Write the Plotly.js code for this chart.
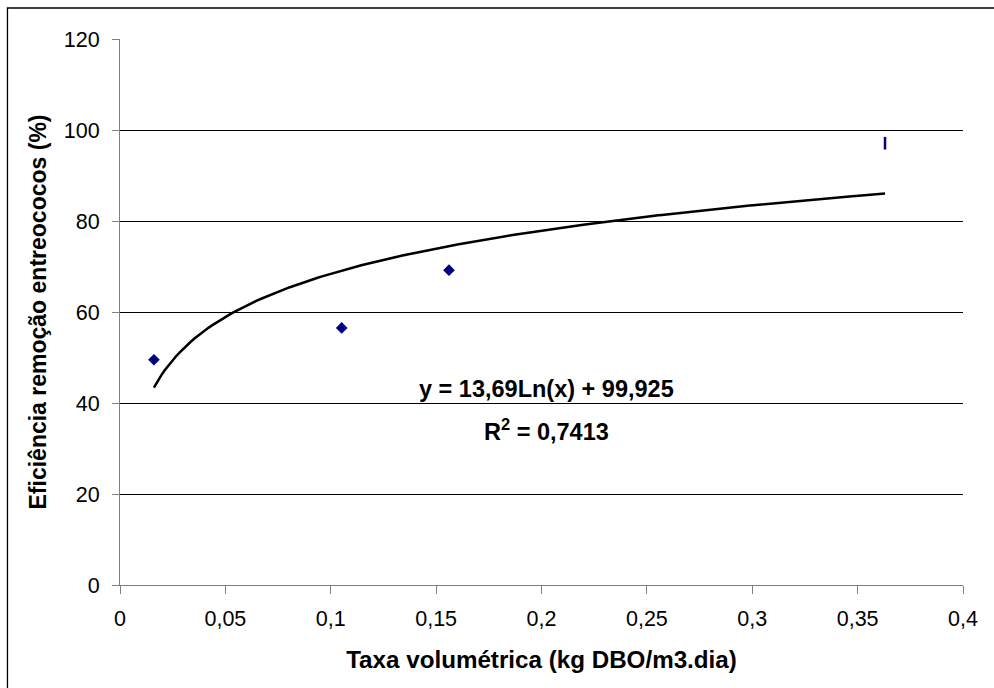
<!DOCTYPE html>
<html>
<head>
<meta charset="utf-8">
<script src="https://cdn.plot.ly/plotly-3.0.1.min.js"></script>
<style>html,body{margin:0;padding:0;background:#fff;}#chart{width:994px;height:688px;}</style>
</head>
<body>
<div id="chart"></div>
<script>
// Data
var taxaX = [0.0161, 0.1052, 0.1561, 0.363];
var eficienciaY = [49.5, 56.5, 69.2, 97.1];
var markerSymbols = ['diamond', 'diamond', 'diamond', 'line-ns'];
// Logarithmic trendline coefficients (from the chart's equation)
var trendA = 13.69;
var trendB = 99.925;
var xTickVals = [0, 0.05, 0.1, 0.15, 0.2, 0.25, 0.3, 0.35, 0.4];
var xTickText = ['0', '0,05', '0,1', '0,15', '0,2', '0,25', '0,3', '0,35', '0,4'];
var yTickVals = [0, 20, 40, 60, 80, 100, 120];

var xmin = Math.min.apply(null, taxaX), xmax = Math.max.apply(null, taxaX);
var tx = [], ty = [];
for (var i = 0; i <= 200; i++) {
  var xv = xmin + (xmax - xmin) * i / 200;
  tx.push(xv);
  ty.push(trendA * Math.log(xv) + trendB);
}

var FONT = 'Liberation Sans, Arial, sans-serif';

var traces = [
  {x: tx, y: ty, mode: 'lines', line: {color: '#000', width: 2.5}, hoverinfo: 'skip', showlegend: false},
  {x: taxaX, y: eficienciaY, mode: 'markers', showlegend: false,
   marker: {symbol: markerSymbols, size: 9, color: '#000080',
            line: {color: '#000080', width: [0, 0, 0, 2.5]}}}
];

var layout = {
  width: 994, height: 688,
  margin: {l: 120, r: 31, t: 39, b: 103},
  paper_bgcolor: '#fff', plot_bgcolor: '#fff',
  font: {family: FONT, color: '#000'},
  showlegend: false,
  xaxis: {
    range: [0, 0.4], tickvals: xTickVals, ticktext: xTickText,
    showgrid: false, zeroline: false, showline: true, linecolor: '#808080', linewidth: 1,
    ticks: 'outside', ticklen: 8, tickcolor: '#808080', tickwidth: 1,
    tickfont: {size: 21.5, family: FONT, color: '#000'},
    ticklabelstandoff: 6,
    title: {text: 'Taxa volumétrica (kg DBO/m3.dia)', font: {size: 24.2, family: FONT, weight: 'bold', color: '#000'}, standoff: 21}
  },
  yaxis: {
    range: [0, 120], tickvals: yTickVals,
    showgrid: true, gridcolor: '#000', gridwidth: 1, zeroline: false,
    showline: true, linecolor: '#808080', linewidth: 1,
    ticks: 'outside', ticklen: 7, tickcolor: '#808080', tickwidth: 1,
    tickfont: {size: 21.5, family: FONT, color: '#000'},
    ticklabelstandoff: 8,
    title: {text: 'Eficiência remoção entreococos (%)', font: {size: 23, family: FONT, weight: 'bold', color: '#000'}, standoff: 10}
  },
  annotations: [
    {xref: 'x', yref: 'y', x: 0.2026, y: 43.1, text: 'y = 13,69Ln(x) + 99,925', showarrow: false,
     font: {size: 23.5, family: FONT, weight: 'bold', color: '#000'}, xanchor: 'center', yanchor: 'middle'},
    {xref: 'x', yref: 'y', x: 0.2026, y: 34.0, text: 'R<sup>2</sup> = 0,7413', showarrow: false,
     font: {size: 23.5, family: FONT, weight: 'bold', color: '#000'}, xanchor: 'center', yanchor: 'middle'}
  ],
  shapes: [
    {type: 'rect', xref: 'paper', yref: 'paper', x0: -0.1335, x1: 1.06, y0: -0.25, y1: 1.0568,
     line: {color: '#000', width: 1.3}, fillcolor: 'rgba(0,0,0,0)', layer: 'below'}
  ]
};

Plotly.newPlot('chart', traces, layout, {displayModeBar: false, staticPlot: true});
</script>
</body>
</html>
